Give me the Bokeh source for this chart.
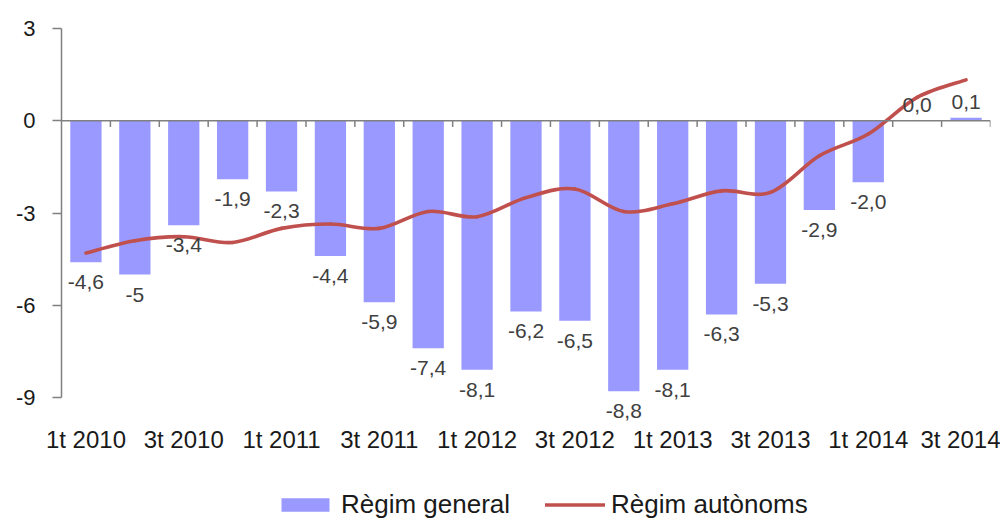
import numpy as np
from bokeh.plotting import figure
from bokeh.models import (ColumnDataSource, Range1d, FixedTicker, Span, Legend, LegendItem)
from bokeh.core.properties import value
from bokeh.embed import file_html
from bokeh.resources import INLINE

# ---- data ----
quarters = ["1t 2010", "2t 2010", "3t 2010", "4t 2010",
            "1t 2011", "2t 2011", "3t 2011", "4t 2011",
            "1t 2012", "2t 2012", "3t 2012", "4t 2012",
            "1t 2013", "2t 2013", "3t 2013", "4t 2013",
            "1t 2014", "2t 2014", "3t 2014"]
regim_general = [-4.6, -5.0, -3.4, -1.9, -2.3, -4.4, -5.9, -7.4, -8.1, -6.2,
                 -6.5, -8.8, -8.1, -6.3, -5.3, -2.9, -2.0, 0.0, 0.1]
general_labels = ["-4,6", "-5", "-3,4", "-1,9", "-2,3", "-4,4", "-5,9", "-7,4", "-8,1", "-6,2",
                  "-6,5", "-8,8", "-8,1", "-6,3", "-5,3", "-2,9", "-2,0", "0,0", "0,1"]
regim_autonoms = [-4.3, -3.9, -3.77, -3.96, -3.5, -3.36, -3.5, -2.95, -3.12, -2.5,
                  -2.22, -2.95, -2.7, -2.28, -2.33, -1.14, -0.43, 0.76, 1.33]
y_ticks = [-9, -6, -3, 0, 3]
y_tick_labels = ["-9", "-6", "-3", "0", "3"]
series_names = ["Règim general", "Règim autònoms"]

FONT = "Liberation Sans"
BAR_COLOR = "#9999FF"
LINE_COLOR = "#C0504D"
AXIS_COLOR = "#808080"
TEXT_COLOR = "#1a1a1a"

n = len(quarters)
xs = list(range(n))

# frame reaches down to the legend row; the y axis itself is bounded to [-9, 3]
p = figure(width=1000, height=522, output_backend="svg", toolbar_location=None,
           x_range=Range1d(-0.5, n - 0.5), y_range=Range1d(-13, 3),
           min_border_left=61, min_border_right=10, min_border_top=28, min_border_bottom=2)
p.outline_line_color = None
p.xgrid.visible = False
p.ygrid.visible = False

# bars
bar_src = ColumnDataSource(dict(x=xs, top=regim_general))
bars = p.vbar(x="x", top="top", bottom=0, width=0.64, source=bar_src,
              fill_color=BAR_COLOR, line_color=None)

# zero line with category-boundary ticks
p.add_layout(Span(location=0, dimension="width", line_color=AXIS_COLOR, line_width=1.5))
p.segment(x0=[i + 0.5 for i in xs], y0=0, x1=[i + 0.5 for i in xs], y1=-0.2,
          line_color=AXIS_COLOR, line_width=1.5)

# smoothed line (Bezier segments through the data points)
ya = np.array(regim_autonoms, dtype=float)
xa = np.array(xs, dtype=float)
xp = np.concatenate([[xa[0]], xa, [xa[-1]]])
yp = np.concatenate([[ya[0]], ya, [ya[-1]]])
bz = dict(x0=[], y0=[], x1=[], y1=[], cx0=[], cy0=[], cx1=[], cy1=[])
for i in range(n - 1):
    P0x, P1x, P2x, P3x = xp[i], xp[i + 1], xp[i + 2], xp[i + 3]
    P0y, P1y, P2y, P3y = yp[i], yp[i + 1], yp[i + 2], yp[i + 3]
    bz["x0"].append(P1x); bz["y0"].append(P1y)
    bz["x1"].append(P2x); bz["y1"].append(P2y)
    bz["cx0"].append(P1x + (P2x - P0x) / 6.0); bz["cy0"].append(P1y + (P2y - P0y) / 6.0)
    bz["cx1"].append(P2x - (P3x - P1x) / 6.0); bz["cy1"].append(P2y - (P3y - P1y) / 6.0)
line = p.bezier(x0="x0", y0="y0", x1="x1", y1="y1", cx0="cx0", cy0="cy0", cx1="cx1", cy1="cy1",
                source=ColumnDataSource(bz), line_color=LINE_COLOR, line_width=3.6,
                line_cap="round", line_join="round")

# data labels
lab_src = ColumnDataSource(dict(
    x=xs, y=regim_general, text=general_labels,
    off=[13 if v < 0 else -9 for v in regim_general],
    base=["top" if v < 0 else "bottom" for v in regim_general]))
p.text(x="x", y="y", text="text", y_offset="off", text_baseline="base", source=lab_src,
       text_align="center", text_font=value(FONT), text_font_size="21px", text_color="#404040")

# axes
yax = p.yaxis[0]
yax.bounds = (-9, 3)
yax.ticker = FixedTicker(ticks=y_ticks)
yax.major_label_overrides = {t: l for t, l in zip(y_ticks, y_tick_labels)}
yax.axis_line_color = AXIS_COLOR
yax.axis_line_width = 1.5
yax.major_tick_line_color = AXIS_COLOR
yax.major_tick_line_width = 1.5
yax.major_tick_out = 9
yax.major_tick_in = 0
yax.minor_tick_line_color = None
yax.major_label_standoff = 17
yax.major_label_text_font = FONT
yax.major_label_text_font_size = "22px"
yax.major_label_text_color = TEXT_COLOR

xax = p.xaxis[0]
xax.ticker = FixedTicker(ticks=xs[::2])
xax.major_label_overrides = {i: quarters[i] for i in xs[::2]}
xax.axis_line_color = None
xax.major_tick_line_color = None
xax.major_tick_out = 0
xax.minor_tick_line_color = None
xax.major_label_standoff = -95
xax.major_label_text_font = FONT
xax.major_label_text_font_size = "24px"
xax.major_label_text_color = TEXT_COLOR

legend = Legend(items=[LegendItem(label=series_names[0], renderers=[bars]),
                       LegendItem(label=series_names[1], renderers=[line])],
                orientation="horizontal", location=(214, 0),
                border_line_color=None, background_fill_alpha=0,
                padding=0, margin=0, spacing=35, label_standoff=6,
                glyph_width=60, glyph_height=17,
                label_text_font=FONT, label_text_font_size="26px", label_text_color=TEXT_COLOR)
p.add_layout(legend, "center")

open("out.html", "w").write(file_html(p, INLINE))
